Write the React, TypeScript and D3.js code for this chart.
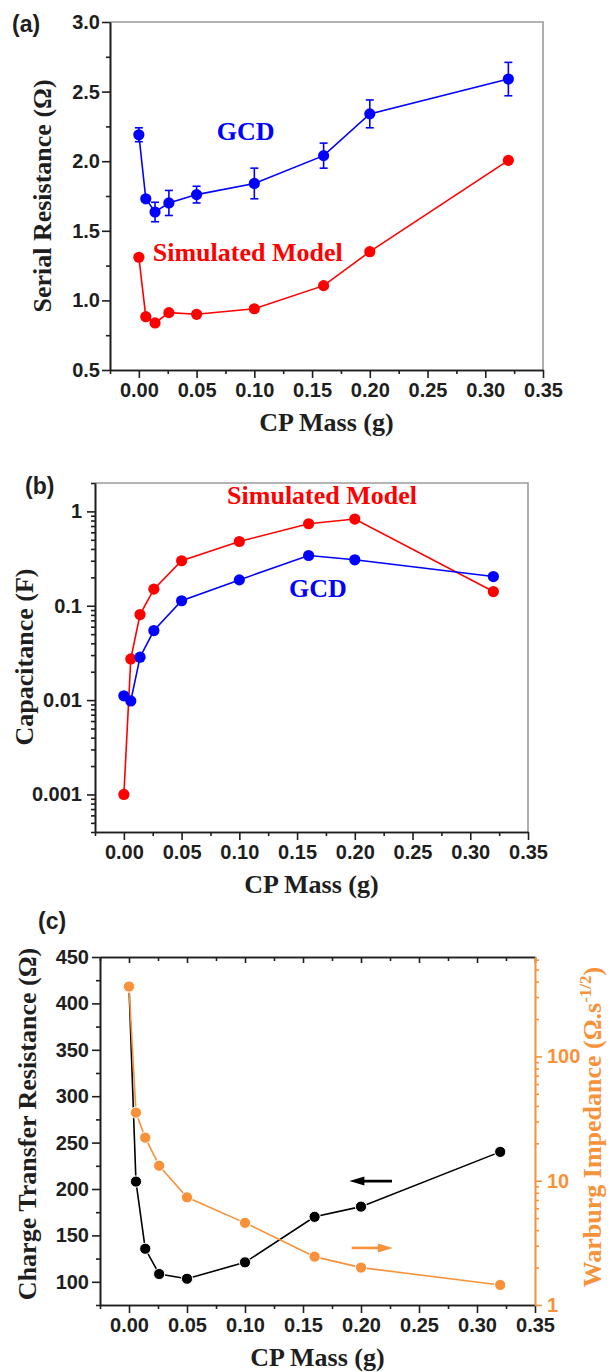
import { useEffect, useRef } from 'react';
import * as d3 from 'd3';

// CP mass (g) shared by every panel
const mass = [0, 0.006, 0.014, 0.026, 0.05, 0.1, 0.16, 0.2, 0.32];
const massTicks = [0, 0.05, 0.1, 0.15, 0.2, 0.25, 0.3, 0.35];
const massMinor = [-0.025, 0.025, 0.075, 0.125, 0.175, 0.225, 0.275, 0.325];

// (a) serial resistance (ohm)
const gcdResistance = [2.19, 1.73, 1.635, 1.7, 1.76, 1.84, 2.04, 2.34, 2.59];
const gcdResistanceErr = [0.05, 0.02, 0.07, 0.09, 0.06, 0.11, 0.09, 0.1, 0.12];
const simResistance = [1.31, 0.883, 0.838, 0.912, 0.9, 0.94, 1.106, 1.35, 2.006];
const resTicks = [0.5, 1.0, 1.5, 2.0, 2.5, 3.0];
const resMinor = [0.75, 1.25, 1.75, 2.25, 2.75];

// (b) capacitance (F)
const gcdCapacitance = [0.0111, 0.0098, 0.0285, 0.0546, 0.113, 0.188, 0.341, 0.307, 0.204];
const simCapacitance = [0.001, 0.0273, 0.0807, 0.15, 0.3, 0.48, 0.74, 0.83, 0.1415];
const capTicks = [0.001, 0.01, 0.1, 1];

// (c) charge transfer resistance (ohm) and Warburg impedance
const chargeTransfer = [418, 208, 135.6, 108.4, 103.3, 121, 170, 181, 240];
const warburg = [365, 35.3, 22.2, 13.2, 7.35, 4.58, 2.45, 2.0, 1.45];
const rctTicks = [100, 150, 200, 250, 300, 350, 400, 450];
const rctMinor = [75, 125, 175, 225, 275, 325, 375, 425];
const warburgTicks = [1, 10, 100];

const W = 615;
const H = 1372;
const SERIF = '"Liberation Serif", "Times New Roman", serif';
const SANS = '"Liberation Sans", Arial, sans-serif';
const BLUE = '#0000ff';
const RED = '#ff0000';
const ORANGE = '#f7923a';
const INK = '#1e1e1e';
const FRAME = '#9c9c9c';

function logMinors(lo: number, hi: number) {
  const out: number[] = [];
  for (let e = -4; e <= 3; e++) {
    for (let m = 2; m <= 9; m++) {
      const v = m * Math.pow(10, e);
      if (v >= lo && v <= hi) out.push(v);
    }
  }
  return out;
}

function styleAxis(g: any, color: string) {
  g.attr('font-family', SANS).attr('font-size', 20).attr('font-weight', 'bold');
  g.selectAll('path').attr('stroke', color).attr('stroke-width', 1.6);
  g.selectAll('line').attr('stroke', color).attr('stroke-width', 1.6);
  g.selectAll('text').attr('fill', color);
}

function series(g: any, x: any, y: any, vals: number[], color: string, outline = false) {
  const line = d3.line<number>().x((_, i) => x(mass[i])).y((d) => y(d));
  g.append('path').datum(vals).attr('d', line).attr('fill', 'none')
    .attr('stroke', color).attr('stroke-width', 1.6);
  g.selectAll(null).data(vals).enter().append('circle')
    .attr('cx', (_: number, i: number) => x(mass[i])).attr('cy', (d: number) => y(d))
    .attr('r', 5.6).attr('fill', color)
    .attr('stroke', outline ? '#fff' : 'none').attr('stroke-width', 1);
}

function bottomAxis(svg: any, x: any, yPos: number, title: string) {
  const ga = svg.append('g').attr('transform', `translate(0,${yPos})`)
    .call(d3.axisBottom(x).tickValues(massTicks).tickSize(8).tickSizeOuter(0).tickPadding(5)
      .tickFormat(d3.format('.2f') as any));
  styleAxis(ga, INK);
  const gm = svg.append('g').attr('transform', `translate(0,${yPos})`)
    .call(d3.axisBottom(x).tickValues(massMinor).tickSize(4).tickSizeOuter(0).tickFormat(() => ''));
  styleAxis(gm, INK);
  const [a, b] = x.range();
  svg.append('text').attr('x', (a + b) / 2).attr('y', yPos + 61).attr('text-anchor', 'middle')
    .attr('font-family', SERIF).attr('font-weight', 'bold').attr('font-size', 26).attr('fill', INK)
    .text(title);
}

function leftAxis(svg: any, y: any, xPos: number, majors: number[], minors: number[], fmt: any, pad: number) {
  const ga = svg.append('g').attr('transform', `translate(${xPos},0)`)
    .call(d3.axisLeft(y).tickValues(majors).tickSize(8).tickSizeOuter(0).tickPadding(pad).tickFormat(fmt));
  styleAxis(ga, INK);
  const gm = svg.append('g').attr('transform', `translate(${xPos},0)`)
    .call(d3.axisLeft(y).tickValues(minors).tickSize(4).tickSizeOuter(0).tickFormat(() => ''));
  styleAxis(gm, INK);
}

function yTitle(svg: any, x: number, y: number, text: string, color = INK) {
  return svg.append('text').attr('transform', `translate(${x},${y}) rotate(-90)`)
    .attr('text-anchor', 'middle').attr('font-family', SERIF).attr('font-weight', 'bold')
    .attr('font-size', 26).attr('fill', color).text(text);
}

function frame(svg: any, l: number, r: number, t: number, b: number) {
  svg.append('path').attr('d', `M${l},${t}H${r}V${b}`).attr('fill', 'none')
    .attr('stroke', FRAME).attr('stroke-width', 1.6);
}

function panelLabel(svg: any, x: number, y: number, t: string) {
  svg.append('text').attr('x', x).attr('y', y).attr('font-family', SANS).attr('font-weight', 'bold')
    .attr('font-size', 23).attr('fill', INK).text(t);
}

function note(svg: any, x: number, y: number, t: string, color: string) {
  svg.append('text').attr('x', x).attr('y', y).attr('font-family', SERIF).attr('font-weight', 'bold')
    .attr('font-size', 26).attr('fill', color).text(t);
}

function arrow(svg: any, x0: number, x1: number, y: number, color: string) {
  const dir = Math.sign(x1 - x0);
  svg.append('line').attr('x1', x0).attr('x2', x1 - dir * 10).attr('y1', y).attr('y2', y)
    .attr('stroke', color).attr('stroke-width', 2.6);
  svg.append('path').attr('d', `M${x1},${y}L${x1 - dir * 15},${y - 4.5}L${x1 - dir * 15},${y + 4.5}Z`)
    .attr('fill', color);
}

function App() {
  const ref = useRef<SVGSVGElement>(null);

  useEffect(() => {
    const svg = d3.select(ref.current);
    svg.selectAll('*').remove();

    // ---------- (a) ----------
    const xA = d3.scaleLinear().domain([-0.025, 0.35]).range([110, 543]);
    const yA = d3.scaleLinear().domain([0.5, 3.0]).range([370, 22]);
    frame(svg, 110, 543, 22, 370);
    leftAxis(svg, yA, 110, resTicks, resMinor, d3.format('.1f'), 2);
    bottomAxis(svg, xA, 370, 'CP Mass (g)');
    yTitle(svg, 51, 196, 'Serial Resistance (\u03A9)');
    panelLabel(svg, 12, 32, '(a)');

    const ga = svg.append('g');
    const err = ga.append('g').attr('stroke', BLUE).attr('stroke-width', 1.6);
    gcdResistance.forEach((v, i) => {
      const cx = xA(mass[i]);
      const e = gcdResistanceErr[i];
      err.append('line').attr('x1', cx).attr('x2', cx).attr('y1', yA(v - e)).attr('y2', yA(v + e));
      err.append('line').attr('x1', cx - 4).attr('x2', cx + 4).attr('y1', yA(v - e)).attr('y2', yA(v - e));
      err.append('line').attr('x1', cx - 4).attr('x2', cx + 4).attr('y1', yA(v + e)).attr('y2', yA(v + e));
    });
    series(ga, xA, yA, gcdResistance, BLUE);
    series(ga, xA, yA, simResistance, RED);
    note(svg, xA(0.0675), yA(2.152), 'GCD', BLUE);
    note(svg, xA(0.012), yA(1.285), 'Simulated Model', RED);

    // ---------- (b) ----------
    const xB = d3.scaleLinear().domain([-0.025, 0.35]).range([95, 528]);
    const yB = d3.scaleLog().domain([0.0004, 2]).range([832, 483]);
    frame(svg, 95, 528, 483, 832);
    leftAxis(svg, yB, 95, capTicks, logMinors(0.0004, 2), (d: number) => String(d), 5);
    bottomAxis(svg, xB, 832, 'CP Mass (g)');
    yTitle(svg, 33, 657, 'Capacitance (F)');
    panelLabel(svg, 25, 494, '(b)');

    const gb = svg.append('g');
    series(gb, xB, yB, simCapacitance, RED);
    series(gb, xB, yB, gcdCapacitance, BLUE);
    note(svg, xB(0.0894), yB(1.21), 'Simulated Model', RED);
    note(svg, xB(0.143), yB(0.124), 'GCD', BLUE);

    // ---------- (c) ----------
    const xC = d3.scaleLinear().domain([-0.025, 0.35]).range([100, 535]);
    const yC = d3.scaleLinear().domain([75, 450]).range([1305, 957]);
    const yW = d3.scaleLog().domain([1, 631]).range([1305, 957]);

    const top = svg.append('g').attr('transform', 'translate(0,957)')
      .call(d3.axisTop(xC).tickValues(massTicks).tickSize(-6).tickSizeOuter(0).tickFormat(() => ''));
    styleAxis(top, INK);
    const topMinor = svg.append('g').attr('transform', 'translate(0,957)')
      .call(d3.axisTop(xC).tickValues(massMinor).tickSize(-4).tickSizeOuter(0).tickFormat(() => ''));
    styleAxis(topMinor, INK);

    leftAxis(svg, yC, 100, rctTicks, rctMinor, d3.format('d'), 3);
    bottomAxis(svg, xC, 1305, 'CP Mass (g)');

    const right = svg.append('g').attr('transform', 'translate(535,0)')
      .call(d3.axisRight(yW).tickValues(warburgTicks).tickSize(7).tickSizeOuter(0).tickPadding(5)
        .tickFormat(d3.format('d') as any));
    styleAxis(right, ORANGE);
    const rightMinor = svg.append('g').attr('transform', 'translate(535,0)')
      .call(d3.axisRight(yW).tickValues(logMinors(1, 631)).tickSize(4).tickSizeOuter(0).tickFormat(() => ''));
    styleAxis(rightMinor, ORANGE);

    yTitle(svg, 36, 1124, 'Charge Transfer Resistance (\u03A9)');
    const wt = svg.append('text').attr('transform', 'translate(601,1127) rotate(-90)')
      .attr('text-anchor', 'middle').attr('font-family', SERIF).attr('font-weight', 'bold')
      .attr('font-size', 26).attr('fill', ORANGE);
    wt.append('tspan').text('Warburg Impedance (\u03A9.s');
    wt.append('tspan').attr('font-size', 17).attr('dy', -10).text('-1/2');
    wt.append('tspan').attr('dy', 10).text(')');
    panelLabel(svg, 38, 929, '(c)');

    const gc = svg.append('g');
    series(gc, xC, yC, chargeTransfer, '#000000', true);
    const gw = svg.append('g');
    const wLine = d3.line<number>().x((_, i) => xC(mass[i])).y((d) => yW(d));
    gw.append('path').datum(warburg).attr('d', wLine).attr('fill', 'none')
      .attr('stroke', ORANGE).attr('stroke-width', 1.6);
    gw.selectAll(null).data(warburg).enter().append('circle')
      .attr('cx', (_: number, i: number) => xC(mass[i])).attr('cy', (d: number) => yW(d))
      .attr('r', 5.6).attr('fill', ORANGE).attr('stroke', '#fff').attr('stroke-width', 1);

    arrow(svg, xC(0.2267), xC(0.19), yC(208.5), '#000000');
    arrow(svg, xC(0.192), xC(0.2275), yW(2.88), ORANGE);
  }, []);

  return (
    <svg
      ref={ref}
      width={W}
      height={H}
      style={{ position: 'absolute', left: 0, top: 0, background: '#fff' }}
    />
  );
}

export default App;
